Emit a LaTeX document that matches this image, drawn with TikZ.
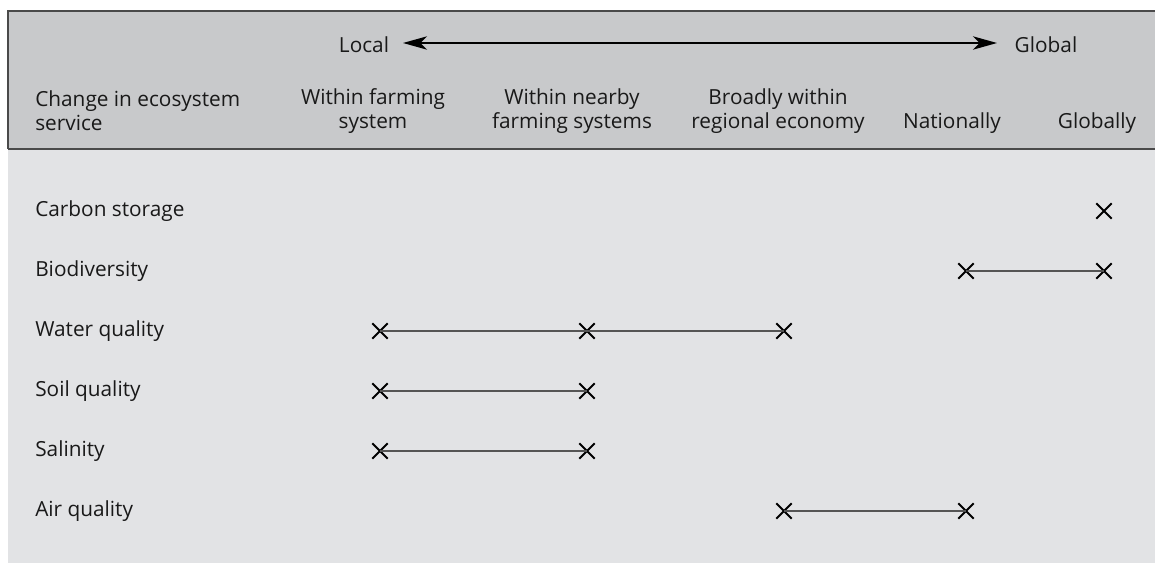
\documentclass[tikz,border=0pt]{standalone}
\usepackage{fontspec}
\setmainfont{Open Sans}
\usetikzlibrary{arrows.meta,shapes.misc}
\definecolor{headgray}{HTML}{C8C9CB}
\definecolor{bodygray}{HTML}{E2E3E5}
\definecolor{rulegray}{HTML}{4A4A4A}
\definecolor{linkgray}{HTML}{555555}
\begin{document}
\begin{tikzpicture}[x=0.75pt,y=-0.75pt,
  txt/.style={font=\fontsize{15.6pt}{18pt}\selectfont, inner sep=0pt, text=black!90},
  colhead/.style={txt, align=center},
  rowlabel/.style={txt, anchor=west},
  xmark/.style={cross out, draw=black, line width=1.5pt, minimum size=10pt, inner sep=0pt},
  link/.style={draw=linkgray, line width=1.1pt},
  scalearrow/.style={line width=1.5pt, {Stealth[length=18pt,width=10pt,inset=5pt]}-{Stealth[length=18pt,width=10pt,inset=5pt]}}
]
\useasboundingbox (0,0) rectangle (1155,563);
% header band and body
\fill[headgray] (8,11) rectangle (1155,149);
\fill[bodygray] (8,149) rectangle (1155,563);
\draw[rulegray, line width=0.9pt] (1155,11) -- (8,11) -- (8,149);
\draw[rulegray, line width=1.4pt] (8,149) -- (1155,149);

% local-to-global scale
\node[txt] (local) at (364,45) {Local};
\node[txt] (global) at (1046,45) {Global};
\coordinate (sl) at (403,43);
\coordinate (sr) at (997,43);
\draw[scalearrow] (sl) -- (sr);

% column headings
\node[txt, align=left, anchor=west] (hchange) at (35,111) {Change in ecosystem\\service};
\node[colhead] (hfarm) at (373,111) {Within farming\\system};
\node[colhead] (hnear) at (572,111) {Within nearby\\farming systems};
\node[colhead] (hreg) at (778,111) {Broadly within\\regional economy};
\node[colhead] (hnat) at (952,123) {Nationally};
\node[colhead] (hglob) at (1097,123) {Globally};

% row labels
\node[rowlabel] (rcarbon) at (35,211) {Carbon storage};
\node[rowlabel] (rbio) at (35,271) {Biodiversity};
\node[rowlabel] (rwater) at (35,331) {Water quality};
\node[rowlabel] (rsoil) at (35,391) {Soil quality};
\node[rowlabel] (rsal) at (35,451) {Salinity};
\node[rowlabel] (rair) at (35,511) {Air quality};

% extents of each change
\node[xmark] (c1) at (1104,211) {};

\node[xmark] (b1) at (966,271) {};
\node[xmark] (b2) at (1104,271) {};
\draw[link] (b1.center) -- (b2.center);

\node[xmark] (w1) at (380,331) {};
\node[xmark] (w2) at (587,331) {};
\node[xmark] (w3) at (784,331) {};
\draw[link] (w1.center) -- (w2.center);
\draw[link] (w2.center) -- (w3.center);

\node[xmark] (s1) at (380,391) {};
\node[xmark] (s2) at (587,391) {};
\draw[link] (s1.center) -- (s2.center);

\node[xmark] (a1) at (380,451) {};
\node[xmark] (a2) at (587,451) {};
\draw[link] (a1.center) -- (a2.center);

\node[xmark] (q1) at (784,511) {};
\node[xmark] (q2) at (966,511) {};
\draw[link] (q1.center) -- (q2.center);
\end{tikzpicture}
\end{document}
